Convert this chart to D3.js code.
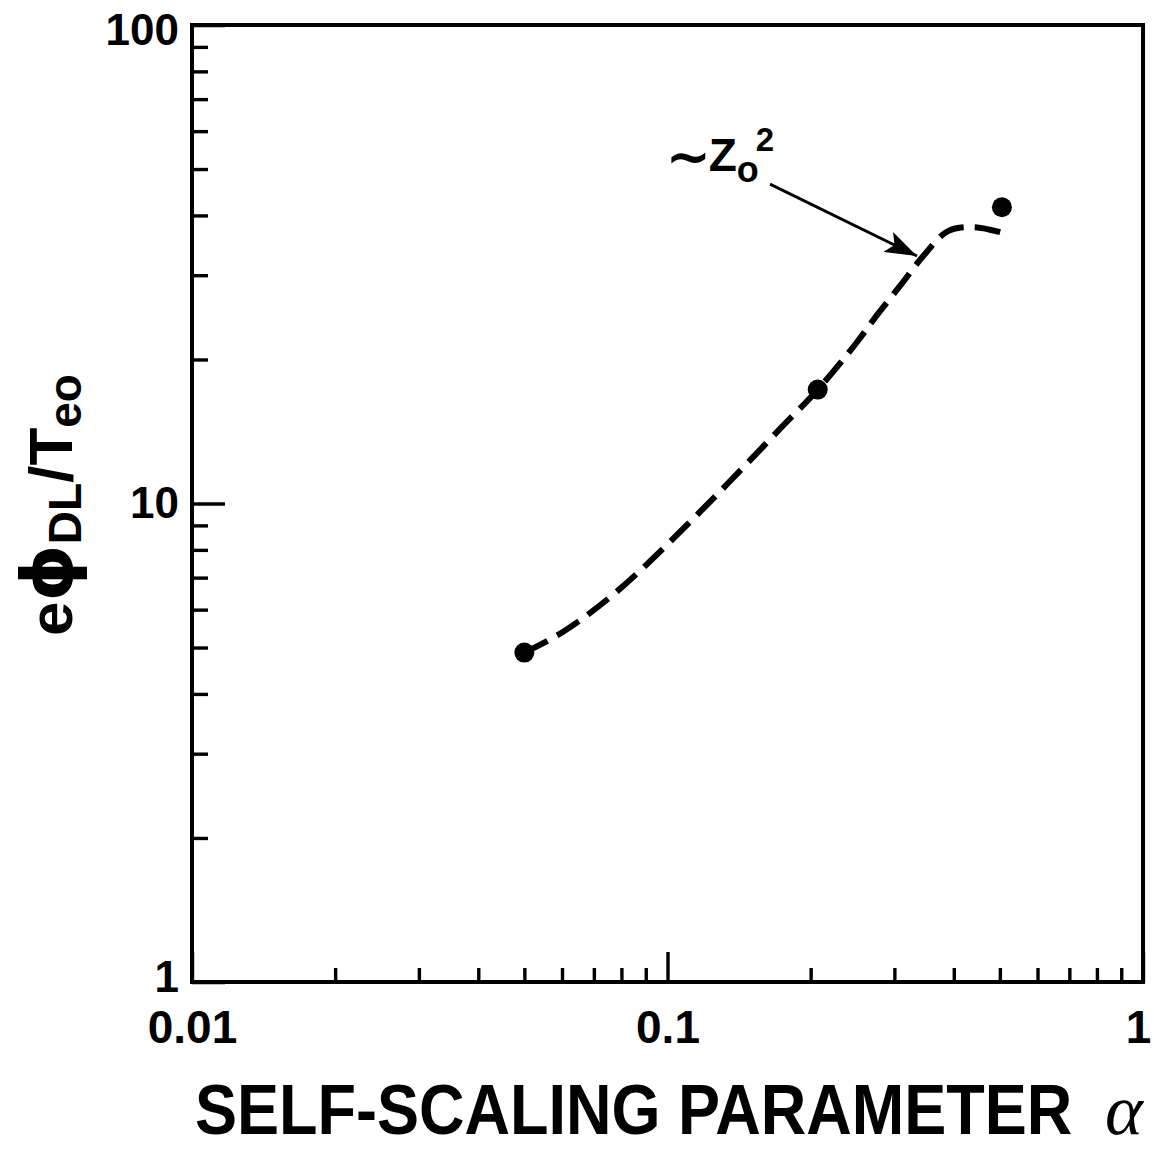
<!DOCTYPE html>
<html>
<head>
<meta charset="utf-8">
<script src="https://cdn.jsdelivr.net/npm/d3@7"></script>
<style>
  body { margin: 0; background: #fff; }
  svg text { font-family: "Liberation Sans", Arial, sans-serif; font-weight: bold; fill: #000; }
</style>
</head>
<body>
<svg id="chart" width="1154" height="1152"></svg>
<script>
// measured points (alpha, e*phi_DL/T_eo)
const alphaVals = [0.05, 0.207, 0.505];
const phiVals = [4.88, 17.3, 41.6];

// dashed trend curve
const curveAlpha = [0.05, 0.0586, 0.068, 0.0776, 0.0897, 0.117, 0.142, 0.171, 0.207, 0.25, 0.277, 0.311, 0.345, 0.389, 0.443, 0.52];
const curvePhi   = [4.88, 5.30, 5.86, 6.5, 7.4, 9.6, 11.7, 14.2, 17.3, 21.7, 24.9, 28.8, 32.9, 37.1, 37.8, 36.5];

const xMajor = [0.01, 0.1, 1];
const xMajorLabels = ["0.01", "0.1", "1"];
const xMinor = [0.02, 0.03, 0.04, 0.05, 0.06, 0.07, 0.08, 0.09, 0.2, 0.3, 0.4, 0.5, 0.6, 0.7, 0.8, 0.9];
const yMajor = [1, 10, 100];
const yMajorLabels = ["1", "10", "100"];
const yMinor = [2, 3, 4, 5, 6, 7, 8, 9, 20, 30, 40, 50, 60, 70, 80, 90];

// annotation "~Zo^2" and its arrow, in data coordinates
const noteAt = [0.1, 49.5];
const arrowFrom = [0.1643, 46.5];
const arrowTo = [0.3347, 32.9];

const svg = d3.select("#chart");
const mLeft = 192, mRight = 1143, mTop = 25, mBottom = 982;

const x = d3.scaleLog().domain([0.01, 1]).range([mLeft, mRight]);
const y = d3.scaleLog().domain([1, 100]).range([mBottom, mTop]);

// minor ticks (pointing inward)
svg.append("g")
    .attr("transform", `translate(0,${mBottom})`)
    .call(d3.axisBottom(x).tickValues(xMinor).tickSize(-14).tickFormat(""))
    .call(g => g.select(".domain").remove());
svg.append("g")
    .attr("transform", `translate(${mLeft},0)`)
    .call(d3.axisLeft(y).tickValues(yMinor).tickSize(-16).tickFormat(""))
    .call(g => g.select(".domain").remove());

// major ticks + labels
const xAx = svg.append("g")
    .attr("transform", `translate(0,${mBottom})`)
    .call(d3.axisBottom(x).tickValues(xMajor).tickSize(-30).tickPadding(28)
        .tickFormat((d, i) => xMajorLabels[i]))
    .call(g => g.select(".domain").remove());
xAx.selectAll("text").style("font-size", "46px").attr("font-family", null)
    .attr("dx", d => d === 1 ? -5 : 0);

const yAx = svg.append("g")
    .attr("transform", `translate(${mLeft},0)`)
    .call(d3.axisLeft(y).tickValues(yMajor).tickSize(-33).tickPadding(13)
        .tickFormat((d, i) => yMajorLabels[i]))
    .call(g => g.select(".domain").remove());
yAx.selectAll("text").style("font-size", "44px").attr("font-family", null)
    .attr("y", d => d === 100 ? 5 : d === 1 ? -5 : 0);

svg.selectAll(".tick line").attr("stroke", "#000").attr("stroke-width", 3.4);

// frame
svg.append("rect")
    .attr("x", mLeft).attr("y", mTop)
    .attr("width", mRight - mLeft).attr("height", mBottom - mTop)
    .attr("fill", "none").attr("stroke", "#000").attr("stroke-width", 4);

// dashed curve
const line = d3.line()
    .x(d => x(d[0])).y(d => y(d[1]))
    .curve(d3.curveCatmullRom.alpha(0.5));
svg.append("path")
    .datum(d3.zip(curveAlpha, curvePhi))
    .attr("d", line)
    .attr("fill", "none")
    .attr("stroke", "#000")
    .attr("stroke-width", 6)
    .attr("stroke-dasharray", "26 11");

// points
svg.selectAll(".pt")
    .data(d3.zip(alphaVals, phiVals))
    .enter().append("circle")
    .attr("class", "pt")
    .attr("cx", d => x(d[0]))
    .attr("cy", d => y(d[1]))
    .attr("r", 10)
    .attr("fill", "#000");

// arrow
svg.append("defs").append("marker")
    .attr("id", "head")
    .attr("markerUnits", "userSpaceOnUse")
    .attr("viewBox", "0 0 32 22")
    .attr("refX", 32).attr("refY", 11)
    .attr("markerWidth", 32).attr("markerHeight", 22)
    .attr("orient", "auto")
    .append("path")
    .attr("d", "M0,0 L32,11 L0,22 L7,11 Z")
    .attr("fill", "#000");

svg.append("line")
    .attr("x1", x(arrowFrom[0])).attr("y1", y(arrowFrom[1]))
    .attr("x2", x(arrowTo[0])).attr("y2", y(arrowTo[1]))
    .attr("stroke", "#000").attr("stroke-width", 2.8)
    .attr("marker-end", "url(#head)");

// annotation text
const note = svg.append("text")
    .attr("x", x(noteAt[0]) - 2).attr("y", y(noteAt[1]))
    .style("font-size", "46px");
note.append("tspan").text("\u223C").style("font-family", "DejaVu Sans")
    .style("font-size", "54px").attr("dy", 4);
note.append("tspan").text("Z").attr("dy", -4).attr("dx", -2);
note.append("tspan").text("o").style("font-size", "36px").attr("dy", 11);
note.append("tspan").text("2").style("font-size", "33px").attr("dy", -31).attr("dx", -3);

// y-axis title
const yt = svg.append("text")
    .attr("transform", "translate(72,505) rotate(-90)")
    .attr("text-anchor", "middle")
    .style("font-size", "62px");
yt.append("tspan").text("e");
yt.append("tspan").text("\u03D5").style("font-family", "DejaVu Sans").style("font-size", "72px");
yt.append("tspan").text("DL").style("font-size", "46px").attr("dy", 9);
yt.append("tspan").text("/").attr("dy", -9);
yt.append("tspan").text("T");
yt.append("tspan").text("eo").style("font-size", "46px").attr("dy", 9);

// x-axis title, narrowed like the condensed face in the figure
svg.append("text")
    .attr("transform", "translate(195,1134) scale(0.9,1)")
    .style("font-size", "70px")
    .text("SELF-SCALING PARAMETER");
svg.append("text")
    .attr("x", 1105).attr("y", 1134)
    .style("font-family", "'Liberation Serif', serif")
    .style("font-style", "italic")
    .style("font-weight", "normal")
    .style("font-size", "72px")
    .text("\u03B1");
</script>
</body>
</html>
